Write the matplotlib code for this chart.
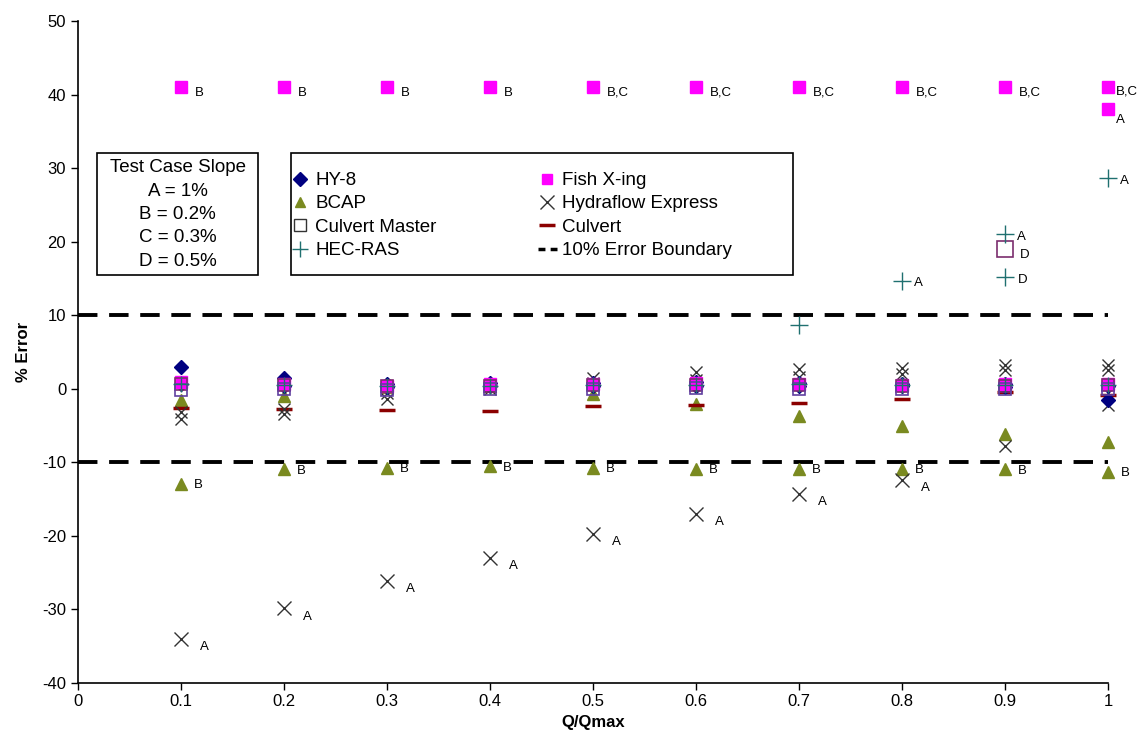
import matplotlib
matplotlib.use("Agg")
import matplotlib.pyplot as plt
from matplotlib.lines import Line2D
from matplotlib.patches import Rectangle

plt.rcParams['font.family'] = ['Liberation Sans', 'DejaVu Sans']
plt.rcParams['axes.unicode_minus'] = False

# Q/Qmax positions
q = [0.1, 0.2, 0.3, 0.4, 0.5, 0.6, 0.7, 0.8, 0.9, 1.0]
tick_labels = ["0", "0.1", "0.2", "0.3", "0.4", "0.5", "0.6", "0.7", "0.8", "0.9", "1"]

# HY-8 (two overlapping test cases near zero)
hy8 = [3.0, 1.5, 0.6, 0.8, 0.8, 0.9, 0.8, 0.6, 0.6, 0.4]
hy8_b = [0.6, 0.4, 0.2, 0.3, 0.3, 0.4, 0.3, 0.3, 0.2, -1.5]

# BCAP
bcap = [-1.5, -1.0, 0.2, 0.4, -0.7, -2.1, -3.7, -5.1, -6.2, -7.3]
bcap_b = [-13.0, -11.0, -10.8, -10.6, -10.8, -10.9, -10.9, -10.9, -11.0, -11.3]

# Culvert Master
cmaster = [0.6, 0.5, 0.4, 0.4, 0.5, 0.5, 0.5, 0.4, 0.4, 0.5]
cmaster_low = [-0.2, -0.1, -0.2, 0.0, 0.0, 0.1, 0.0, 0.0, 0.0, 0.0]
cmaster_d_q = [0.9]
cmaster_d = [19.0]

# HEC-RAS
hecras = [0.6, 0.5, 0.4, 0.4, 0.5, 0.5, 0.6, 0.5, 0.5, 0.5]
hecras_hi_q = [0.7, 0.8, 0.9, 0.9, 1.0]
hecras_hi = [8.6, 14.7, 21.0, 15.2, 28.6]
hecras_hi_lbl = ["", "A", "A", "D", "A"]

# Fish X-ing
fish = [41.0, 41.0, 41.0, 41.0, 41.0, 41.1, 41.0, 41.0, 41.1, 41.0]
fish_lbl = ["B", "B", "B", "B", "B,C", "B,C", "B,C", "B,C", "B,C", "B,C"]
fish_low = [0.9, 0.6, 0.3, 0.6, 0.6, 0.7, 0.6, 0.5, 0.6, 0.6]
fish_a_q = [1.0]
fish_a = [38.0]

# Hydraflow Express
hydra = [-4.2, -3.5, -1.4, 0.3, 1.5, 2.2, 2.6, 2.8, 3.2, 3.2]
hydra_mid = [-3.2, -2.8, -0.6, 0.0, 0.8, 1.2, 1.6, 2.0, 2.5, 2.5]
hydra_a_q = [0.1, 0.2, 0.3, 0.4, 0.5, 0.6, 0.7, 0.8]
hydra_a = [-34.1, -29.9, -26.2, -23.0, -19.8, -17.0, -14.3, -12.4]
hydra_x_q = [0.9, 1.0]
hydra_x = [-7.8, -2.3]

# Culvert
culvert = [-2.6, -2.8, -2.9, -3.1, -2.4, -2.3, -2.0, -1.4, -0.5, -0.9]

c_hy8 = '#000080'
c_bcap = '#7a8a20'
c_cm = '#7b2e6e'
c_hec = '#1f7070'
c_fish = '#ff00ff'
c_hydra = '#333333'
c_culv = '#8b0000'

fig = plt.figure(figsize=(11.4, 7.55), dpi=100)
ax = fig.add_axes([0.0684, 0.096, 0.9035, 0.876])

kw = dict(linestyle='none', clip_on=False)

# 10% boundaries
for yb in (10, -10):
    ax.axhline(yb, color='black', lw=2.8, dashes=(5, 3), zorder=1)

ax.plot(q, bcap, marker='^', color=c_bcap, ms=8, **kw)
ax.plot(q, bcap_b, marker='^', color=c_bcap, ms=8, **kw)
ax.plot(q, culvert, marker='_', color=c_culv, ms=12, mew=2.5, **kw)
ax.plot(q, hydra, marker='x', color=c_hydra, ms=9, mew=1.0, **kw)
ax.plot(q, hydra_mid, marker='x', color=c_hydra, ms=9, mew=1.0, **kw)
ax.plot(hydra_a_q, hydra_a, marker='x', color=c_hydra, ms=10, mew=1.0, **kw)
ax.plot(hydra_x_q, hydra_x, marker='x', color=c_hydra, ms=9, mew=1.0, **kw)
ax.plot(q, hy8, marker='D', color=c_hy8, ms=7, **kw)
ax.plot(q, hy8_b, marker='D', color=c_hy8, ms=7, **kw)
ax.plot(q, fish_low, marker='s', color=c_fish, ms=8, **kw)
ax.plot(q, fish, marker='s', color=c_fish, ms=8, **kw)
ax.plot(fish_a_q, fish_a, marker='s', color=c_fish, ms=8, **kw)
ax.plot(q, cmaster, marker='s', mfc='none', mec=c_cm, ms=9, mew=1.2, **kw)
ax.plot(q, cmaster_low, marker='s', mfc='none', mec='#6040a0', ms=9, mew=1.2, **kw)
ax.plot(cmaster_d_q, cmaster_d, marker='s', mfc='none', mec=c_cm, ms=11, mew=1.2, **kw)
ax.plot(q, hecras, marker='+', color=c_hec, ms=12, mew=1.0, **kw)
ax.plot(hecras_hi_q, hecras_hi, marker='+', color=c_hec, ms=13, mew=1.0, **kw)

lbl_kw = dict(textcoords='offset points', fontsize=9.5, ha='left', va='center',
              annotation_clip=False)
for x, y, t in zip(q, fish, fish_lbl):
    # the last label sits tight against its marker at the right edge
    off = (6, -3) if x == 1.0 else (10, -4)
    ax.annotate(t, (x, y), xytext=off, **lbl_kw)
ax.annotate("A", (fish_a_q[0], fish_a[0]), xytext=(6, -8), **lbl_kw)
for x, y in zip(q, bcap_b):
    ax.annotate("B", (x, y), xytext=(9, -1), **lbl_kw)
for x, y in zip(hydra_a_q, hydra_a):
    ax.annotate("A", (x, y), xytext=(14, -6), **lbl_kw)
for x, y, t in zip(hecras_hi_q, hecras_hi, hecras_hi_lbl):
    if t:
        ax.annotate(t, (x, y), xytext=(9, -2), **lbl_kw)
ax.annotate("D", (cmaster_d_q[0], cmaster_d[0]), xytext=(11, -4), **lbl_kw)

ax.set_xlim(0, 1)
ax.set_ylim(-40, 50)
ax.set_xticks([i / 10 for i in range(11)])
ax.set_xticklabels(tick_labels)
ax.set_yticks(range(-40, 51, 10))
ax.tick_params(direction='out', length=5, labelsize=12, width=1)
for s in ('top', 'right'):
    ax.spines[s].set_visible(False)
ax.spines['left'].set_linewidth(1.2)
ax.spines['bottom'].set_linewidth(1.2)
ax.set_xlabel("Q/Qmax", fontsize=12, fontweight='bold', labelpad=4)
ax.set_ylabel("% Error", fontsize=12, fontweight='bold', labelpad=8)

# test case slope box
fig.patches.append(Rectangle((97 / 1140, 1 - 275 / 755), 161 / 1140, 122 / 755,
                             transform=fig.transFigure, fc='white', ec='black', lw=1.2,
                             zorder=2))
fig.text(177.5 / 1140, 1 - 214.5 / 755,
         "Test Case Slope\nA = 1%\nB = 0.2%\nC = 0.3%\nD = 0.5%",
         ha='center', va='center', fontsize=13.5, linespacing=1.5, zorder=3)

# legend box
fig.patches.append(Rectangle((291 / 1140, 1 - 275 / 755), 502 / 1140, 122 / 755,
                             transform=fig.transFigure, fc='white', ec='black', lw=1.2,
                             zorder=2))
handles = [
    Line2D([], [], linestyle='none', marker='D', color=c_hy8, ms=7),
    Line2D([], [], linestyle='none', marker='^', color=c_bcap, ms=7),
    Line2D([], [], linestyle='none', marker='s', mfc='none', mec='#333333', ms=8),
    Line2D([], [], linestyle='none', marker='+', color=c_hec, ms=12),
    Line2D([], [], linestyle='none', marker='s', color=c_fish, ms=7),
    Line2D([], [], linestyle='none', marker='x', color=c_hydra, ms=10),
    Line2D([], [], linestyle='none', marker='_', color=c_culv, ms=12, mew=2.5),
    Line2D([], [], color='black', lw=2.5, dashes=(2, 1.5)),
]
names = ["HY-8", "BCAP", "Culvert Master", "HEC-RAS",
         "Fish X-ing", "Hydraflow Express", "Culvert", "10% Error Boundary"]
leg = fig.legend(handles, names, ncol=2, loc='upper left',
                 bbox_to_anchor=(291 / 1140, 1 - 172 / 755),
                 bbox_transform=fig.transFigure, fontsize=13.5, frameon=False,
                 handlelength=1.0, handletextpad=0.3, labelspacing=0.33,
                 borderpad=0, borderaxespad=0, columnspacing=5.4)
leg.set_zorder(5)

fig.savefig("out.png", dpi=100, facecolor='white')
